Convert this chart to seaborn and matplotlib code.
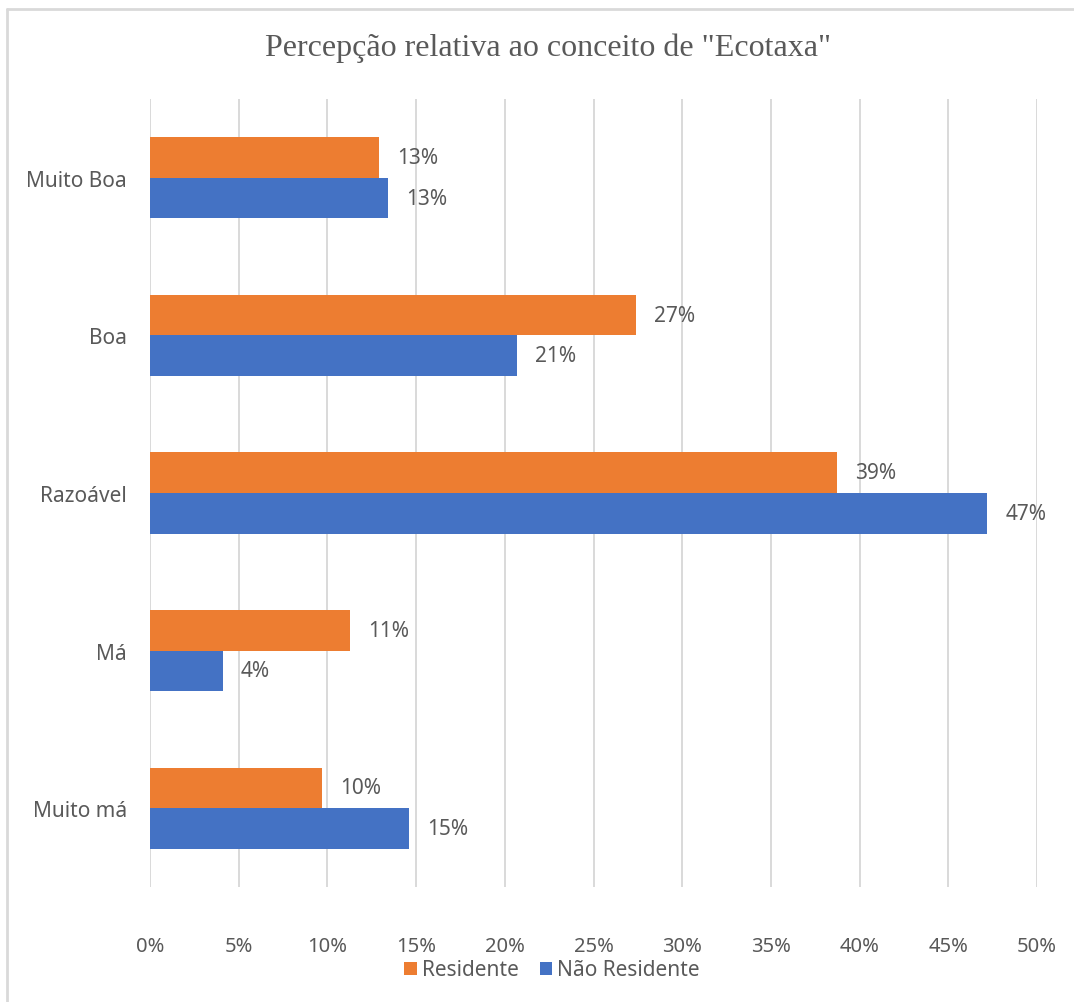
import matplotlib
matplotlib.use("Agg")
import matplotlib.pyplot as plt
from matplotlib.lines import Line2D
from matplotlib.patches import Patch
import seaborn as sns
import pandas as pd

# Survey answers and the share of each group (percent)
categories = ["Muito Boa", "Boa", "Razoável", "Má", "Muito má"]
groups = ["Residente", "Não Residente"]
residente = [12.9, 27.4, 38.7, 11.3, 9.7]
nao_residente = [13.4, 20.7, 47.2, 4.1, 14.6]
x_ticks = [0, 5, 10, 15, 20, 25, 30, 35, 40, 45, 50]
title = 'Percepção relativa ao conceito de "Ecotaxa"'

colors = {"Residente": "#ED7D31", "Não Residente": "#4472C4"}
text_gray = "#595959"

df = pd.DataFrame({
    "categoria": categories * 2,
    "grupo": [groups[0]] * len(categories) + [groups[1]] * len(categories),
    "valor": residente + nao_residente,
})

sns.set_theme(style="white")
plt.rcParams["font.family"] = ["Noto Sans", "DejaVu Sans"]

W, H, DPI = 1074, 1003, 100
fig = plt.figure(figsize=(W / DPI, H / DPI), dpi=DPI)
ax = fig.add_axes([150 / W, 1 - 888 / H, (1037 - 150) / W, (888 - 100) / H])

sns.barplot(data=df, y="categoria", x="valor", hue="grupo", order=categories,
            hue_order=groups, palette=colors, orient="h", width=0.515,
            saturation=1, linewidth=0, ax=ax, legend=False, zorder=3)

for container in ax.containers:
    vals = container.datavalues
    ax.bar_label(container, labels=[f"{v:.0f}%" for v in vals], padding=13,
                 fontsize=15, color=text_gray)

ax.set_xlim(0, 50)
ax.set_xticks(x_ticks)
ax.set_xticklabels([f"{t}%" for t in x_ticks], fontsize=14.5, color=text_gray)
ax.tick_params(axis="x", length=0, pad=35)
ax.tick_params(axis="y", length=0, pad=16.5, labelsize=15, labelcolor=text_gray)
ax.set_xlabel("")
ax.set_ylabel("")
ax.grid(axis="x", color="#D9D9D9", linewidth=1.4, zorder=0)
ax.grid(axis="y", visible=False)
for s in ax.spines.values():
    s.set_visible(False)

fig.text(548 / W, 1 - 48 / H, title, ha="center", va="center",
         family=["Liberation Serif"], fontsize=23, color=text_gray)

handles = [Patch(facecolor=colors[g], edgecolor="none") for g in groups]
fig.legend(handles, groups, loc="center", bbox_to_anchor=(552 / W, 1 - 971 / H),
           ncol=2, frameon=False, fontsize=15, labelcolor=text_gray,
           handlelength=0.6, handleheight=0.6, handletextpad=0.25, columnspacing=1.0)

# outer chart frame (left and top edges)
fig.add_artist(Line2D([7.5 / W, 7.5 / W], [0, 1 - 9.5 / H], transform=fig.transFigure,
                      color="#D9D9D9", linewidth=2))
fig.add_artist(Line2D([7.5 / W, 1], [1 - 9.5 / H, 1 - 9.5 / H], transform=fig.transFigure,
                      color="#D9D9D9", linewidth=2))

fig.savefig("out.png", dpi=DPI, facecolor="white")
